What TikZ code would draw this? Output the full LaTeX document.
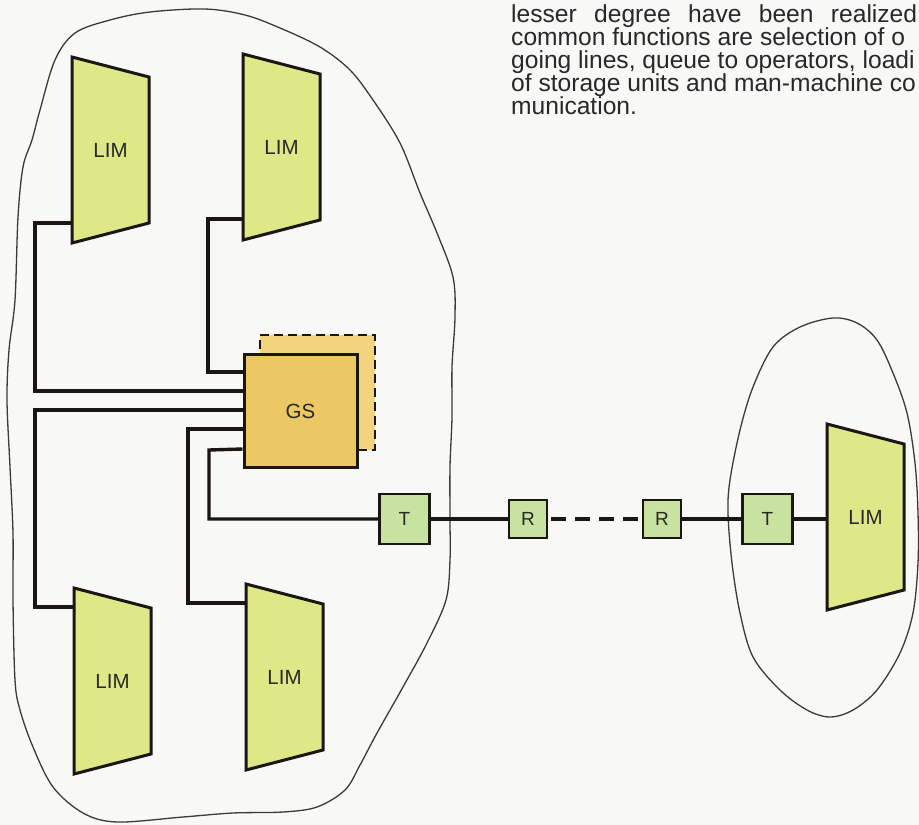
\documentclass[tikz,border=0pt]{standalone}
\usepackage{fontspec}
\setmainfont{Liberation Sans}
\definecolor{paper}{RGB}{248,248,246}
\definecolor{inkc}{RGB}{28,22,18}
\definecolor{limfill}{RGB}{223,232,135}
\definecolor{gsfill}{RGB}{236,200,100}
\definecolor{gsback}{RGB}{241,212,125}
\definecolor{tfill}{RGB}{200,226,160}
\definecolor{textc}{RGB}{40,40,40}
\tikzset{
  blob/.style={draw=inkc!85, line width=1.3pt},
  wire/.style={draw=inkc, line width=3.4pt},
  limbox/.style={draw=inkc, line width=3pt, fill=limfill, line join=miter},
  limlabel/.style={inner sep=0pt, text=textc, font=\fontsize{20.5}{20.5}\selectfont},
  gsbox/.style={draw=inkc, line width=3pt, fill=gsfill, minimum size=113pt, inner sep=0pt,
    text=textc, font=\fontsize{20.5}{20.5}\selectfont},
  gsspare/.style={draw=inkc, line width=2.4pt, fill=gsback, minimum size=115pt, inner sep=0pt,
    dash pattern=on 9pt off 5pt},
  tbox/.style={draw=inkc, line width=2.8pt, fill=tfill, minimum size=50pt, inner sep=0pt,
    text=textc, font=\fontsize{19}{19}\selectfont},
  rbox/.style={draw=inkc, line width=2.8pt, fill=tfill, minimum size=38pt, inner sep=0pt,
    text=textc, font=\fontsize{19}{19}\selectfont},
  bodytext/.style={inner sep=0pt, anchor=base west, text=textc},
  limshape/.pic={
    \path[limbox] (0,0) -- (77,20) -- (77,166) -- (0,186) -- cycle;
    \node[limlabel] (-label) at (38.5,93) {LIM};
    \coordinate (-hi) at (0,19);
    \coordinate (-lo) at (0,165);
    \coordinate (-mid) at (0,94);
  }
}
\begin{document}
\begin{tikzpicture}[x=1pt,y=-1pt]
\clip (0,0) rectangle (919,825);
\fill[paper] (0,0) rectangle (919,825);

% the two site outlines
\draw[blob] plot[smooth cycle, tension=0.55] coordinates {
  (205,9) (245,15) (280,28) (320,47) (350,70) (373,100) (400,143) (420,193)
  (437,233) (453,277) (455,317) (452,367) (452,417) (450,467) (450,520)
  (450,560) (446,600) (427,643) (403,687) (377,733) (360,765) (345,790)
  (317,807) (283,812) (233,813) (183,817) (117,822) (83,813) (53,787)
  (33,747) (20,710) (15,680) (13,600) (13,533) (10,467) (7,400) (9,350)
  (15,300) (18,217) (23,167) (32,140) (40,110) (55,60) (75,33) (110,20) (150,12)};
\draw[blob] plot[smooth cycle, tension=0.55] coordinates {
  (833,318) (800,327) (773,347) (753,387) (740,430) (730,480) (728,513)
  (732,563) (740,613) (753,657) (780,690) (807,710) (830,717) (853,710)
  (877,690) (900,653) (913,613) (918,563) (918,513) (915,463) (907,413)
  (893,373) (877,340) (857,323)};

% group switch with its spare
\node[gsspare] (GSB) at (317.5,392.5) {};
\node[gsbox] (GS) at (300.5,411) {GS};

% line terminals and regenerators
\node[tbox] (T1) at (404.5,519) {T};
\node[rbox] (R1) at (528,519) {R};
\node[rbox] (R2) at (662,519) {R};
\node[tbox] (T2) at (767.5,519) {T};

% wiring (drawn beneath the modules)
\draw[wire] (72,223) -- (35,223) |- ([yshift=-38pt]GS.north west);
\draw[wire] (243,219) -- (208,219) |- ([yshift=-19pt]GS.north west);
\draw[wire] (74,607) -- (35,607) |- ([yshift=-57pt]GS.north west);
\draw[wire] (246,603) -- (188,603) |- ([yshift=-76pt]GS.north west);
\draw[wire] ([yshift=-96pt]GS.north west) -- (209,450) |- (T1.west);
\draw[wire] (T1) -- (R1);
\draw[wire, dash pattern=on 15pt off 9pt, dash phase=-3pt] (R1) -- (R2);
\draw[wire] (R2) -- (T2);
\draw[wire] (T2.east) -- (827,519);

% line interface modules
\pic (L1) at (72,57) {limshape};
\pic (L2) at (243,54) {limshape};
\pic (L3) at (74,588) {limshape};
\pic (L4) at (246,584) {limshape};
\pic (L5) at (827,424) {limshape};

% redraw boxes on top of the wires
\node[tbox] at (T1) {T};
\node[rbox] at (R1) {R};
\node[rbox] at (R2) {R};
\node[tbox] at (T2) {T};

% running text
\node[bodytext] (para) at (511,22) {\parbox[t]{440pt}{\fontsize{24.6}{23}\selectfont
  \makebox[406pt][s]{lesser degree have been realized}\\
  common functions are selection of o\\
  going lines, queue to operators, loadi\\
  of storage units and man-machine co\\
  munication.}};
\end{tikzpicture}
\end{document}
